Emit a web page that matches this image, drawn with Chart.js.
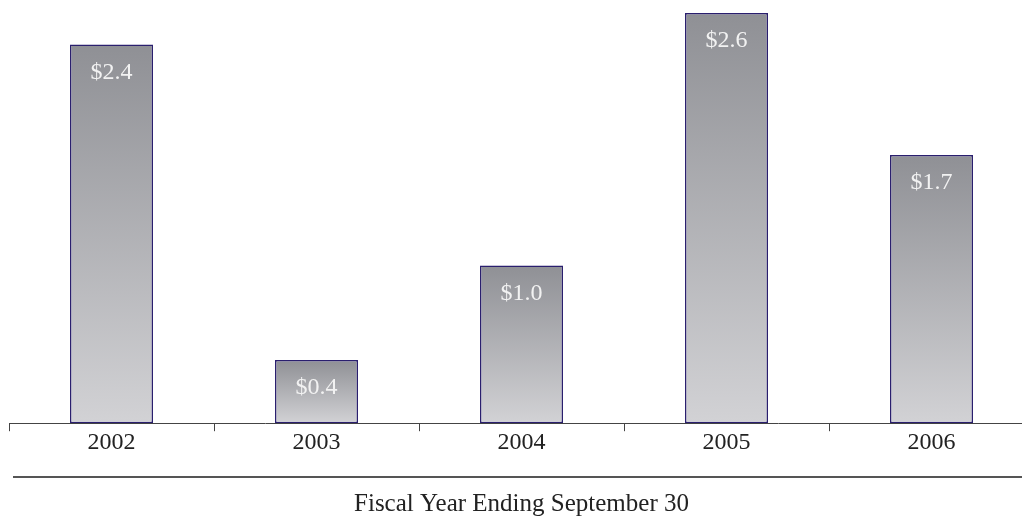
<!DOCTYPE html>
<html>
<head>
<meta charset="utf-8">
<script src="https://cdn.jsdelivr.net/npm/chart.js@4/dist/chart.umd.min.js"></script>
<style>
html,body{margin:0;padding:0;background:#fff;overflow:hidden;width:1022px;height:519px;}
canvas{display:block;}
</style>
</head>
<body>
<canvas id="c" width="1040" height="519"></canvas>
<script>
const categories = ['2002', '2003', '2004', '2005', '2006'];
const values = [2.4, 0.4, 1.0, 2.6, 1.7];
const valueLabels = ['$2.4', '$0.4', '$1.0', '$2.6', '$1.7'];
const axisTitle = 'Fiscal Year Ending September 30';

const FONT = '"Liberation Serif", "Times New Roman", serif';

function barGradient(context) {
  const chart = context.chart;
  const ys = chart.scales && chart.scales.y;
  if (!ys || !chart.chartArea || context.dataIndex === undefined) return '#b0b0b4';
  const top = ys.getPixelForValue(values[context.dataIndex]);
  const base = ys.getPixelForValue(0);
  if (!isFinite(top) || !isFinite(base) || top === base) return '#b0b0b4';
  const g = chart.ctx.createLinearGradient(0, top, 0, base);
  g.addColorStop(0, '#8f9095');
  g.addColorStop(1, '#d2d2d5');
  return g;
}

const labelPlugin = {
  id: 'valueLabels',
  afterDatasetsDraw(chart) {
    const ctx = chart.ctx;
    const meta = chart.getDatasetMeta(0);
    ctx.save();
    ctx.font = '24px ' + FONT;
    ctx.fillStyle = '#f2f2f2';
    ctx.textAlign = 'center';
    ctx.textBaseline = 'middle';
    meta.data.forEach((el, i) => {
      ctx.fillText(valueLabels[i], el.x, el.y + 28);
    });
    ctx.restore();
  }
};

const rulePlugin = {
  id: 'rule',
  afterDraw(chart) {
    const ctx = chart.ctx;
    const xs = chart.scales.x;
    const y = xs.bottom - 42;
    ctx.save();
    ctx.strokeStyle = '#555';
    ctx.lineWidth = 2;
    ctx.beginPath();
    ctx.moveTo(xs.left + 4, y);
    ctx.lineTo(chart.width, y);
    ctx.stroke();
    ctx.restore();
  }
};

new Chart(document.getElementById('c'), {
  type: 'bar',
  data: {
    labels: categories,
    datasets: [{
      data: values,
      backgroundColor: barGradient,
      borderColor: '#2a1f6e',
      borderWidth: 1.5,
      borderSkipped: false,
      barPercentage: 0.405,
      categoryPercentage: 1.0
    }]
  },
  options: {
    responsive: false,
    animation: false,
    devicePixelRatio: 1,
    layout: { padding: { left: 9, right: 6, top: 13, bottom: 0 } },
    plugins: { legend: { display: false }, tooltip: { enabled: false } },
    scales: {
      y: { display: false, min: 0, max: 2.6 },
      x: {
        offset: true,
        grid: { offset: true, drawOnChartArea: false, tickLength: 8, color: '#444', lineWidth: 1 },
        border: { color: '#444', width: 1 },
        ticks: { font: { family: FONT, size: 24 }, color: '#222', padding: -3 },
        title: {
          display: true,
          text: axisTitle,
          font: { family: FONT, size: 25 },
          color: '#222',
          padding: { top: 35, bottom: 0 }
        }
      }
    }
  },
  plugins: [labelPlugin, rulePlugin]
});
</script>
</body>
</html>
